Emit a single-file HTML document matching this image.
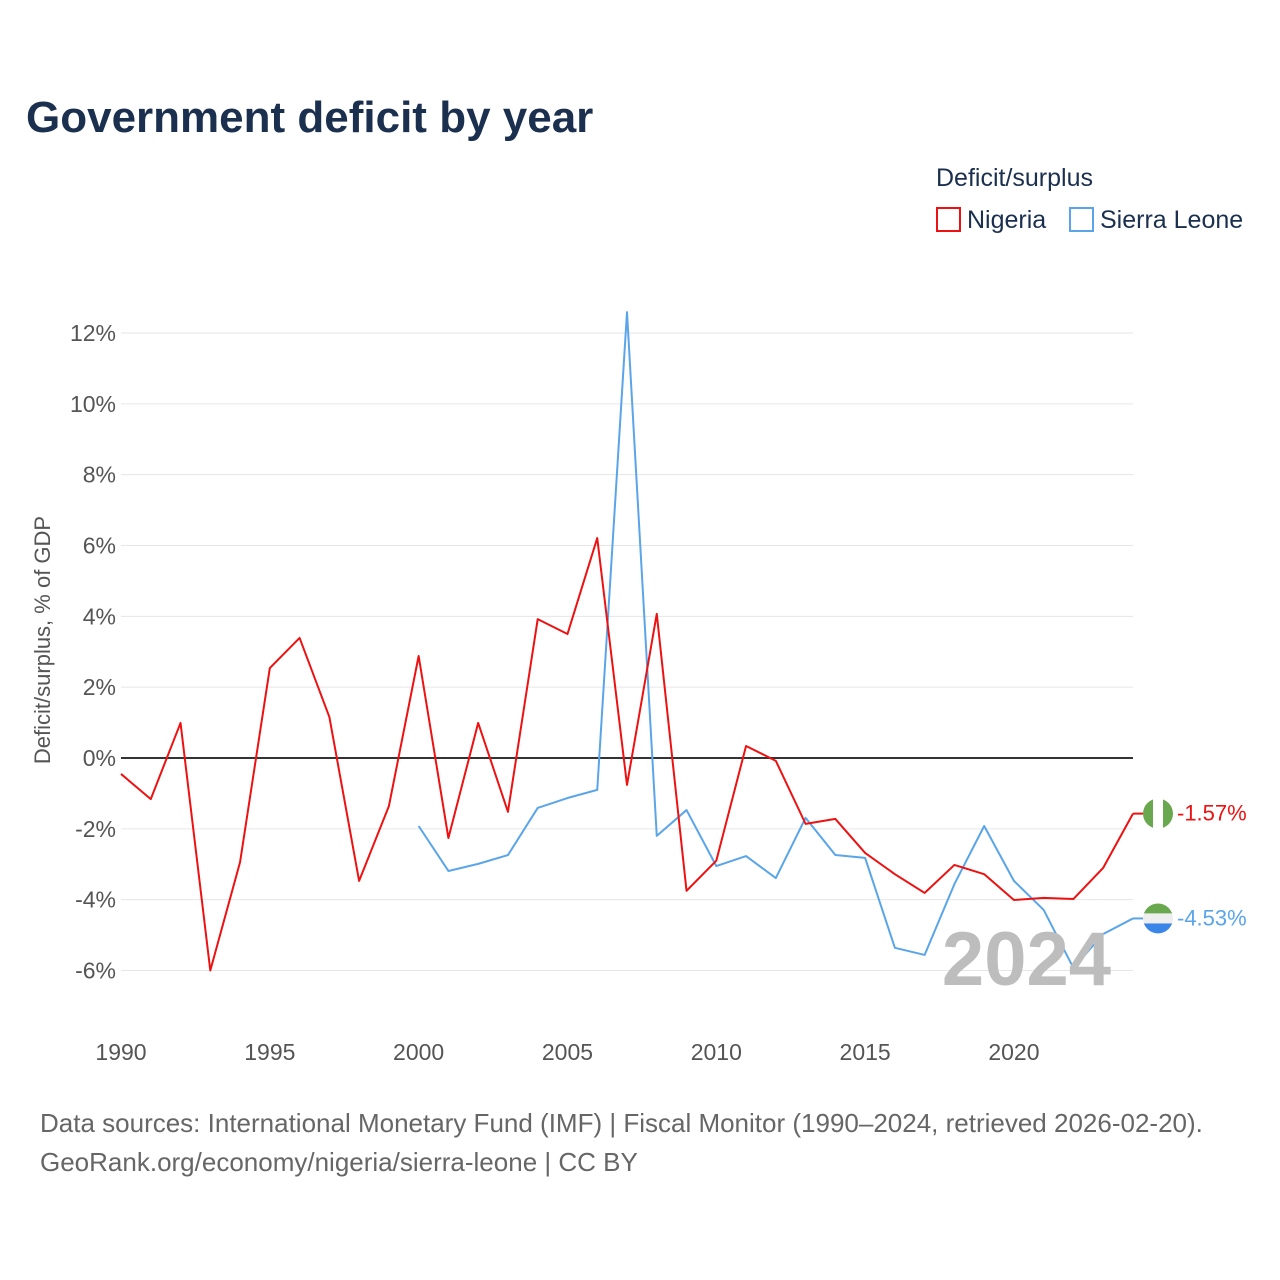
<!DOCTYPE html>
<html><head><meta charset="utf-8">
<style>
body{margin:0;background:#fff;font-family:"Liberation Sans",sans-serif;}
svg{display:block}
</style></head>
<body>
<svg id="chart" width="1280" height="1280">
<text x="26" y="132" font-size="44" font-weight="bold" fill="#1b2f4e">Government deficit by year</text>
<text x="936" y="186" font-size="25" fill="#1b2f4e">Deficit/surplus</text>
<g>
<rect x="937" y="208" width="23" height="23" fill="none" stroke="#ee1111" stroke-width="2"/>
<text x="967" y="228" font-size="25" fill="#1b2f4e">Nigeria</text></g>
<g>
<rect x="1070" y="208" width="23" height="23" fill="none" stroke="#5aa5ea" stroke-width="2"/>
<text x="1100" y="228" font-size="25" fill="#1b2f4e">Sierra Leone</text></g>
<text transform="translate(50,640) rotate(-90)" text-anchor="middle" font-size="22" fill="#555">Deficit/surplus, % of GDP</text>
<g id="grid"></g><g id="series"></g>
<text x="1111" y="985" text-anchor="end" font-size="76" font-weight="bold" fill="#bdbdbd">2024</text>
<text x="40" y="1132" font-size="26" fill="#666">Data sources: International Monetary Fund (IMF) | Fiscal Monitor (1990–2024, retrieved 2026-02-20).</text>
<text x="40" y="1171" font-size="26" fill="#666">GeoRank.org/economy/nigeria/sierra-leone | CC BY</text>
</svg>
<script>
const years=[];for(let y=1990;y<=2024;y++)years.push(y);
const nigeria=[-0.45,-1.16,0.99,-6.0,-2.94,2.54,3.39,1.16,-3.47,-1.36,2.88,-2.26,0.99,-1.52,3.92,3.5,6.21,-0.76,4.07,-3.75,-2.9,0.34,-0.08,-1.86,-1.72,-2.68,-3.28,-3.81,-3.02,-3.28,-4.01,-3.95,-3.98,-3.1,-1.57];
const sierraYears=[];for(let y=2000;y<=2024;y++)sierraYears.push(y);
const sierra=[-1.92,-3.19,-2.99,-2.74,-1.41,-1.13,-0.9,12.59,-2.2,-1.47,-3.05,-2.77,-3.39,-1.69,-2.74,-2.82,-5.36,-5.56,-3.56,-1.92,-3.47,-4.29,-5.93,-4.97,-4.53];
const yTicks=[-6,-4,-2,0,2,4,6,8,10,12];
const xTicks=[1990,1995,2000,2005,2010,2015,2020];
const X=v=>121+(v-1990)*(1133-121)/34;
const Y=v=>758-v*(758-333)/12;
const NS="http://www.w3.org/2000/svg";
const grid=document.getElementById('grid'),ser=document.getElementById('series');
function mk(tag,attrs,parent){const e=document.createElementNS(NS,tag);for(const k in attrs)e.setAttribute(k,attrs[k]);parent.appendChild(e);return e;}
yTicks.forEach(t=>{
 const l=mk('line',{x1:121,x2:1133,y1:Y(t),y2:Y(t),stroke:t===0?'#333':'#e6e6e6','stroke-width':t===0?2:1},grid);
 
 
 const tx=mk('text',{x:116,y:Y(t)+8,'text-anchor':'end','font-size':23,fill:'#555'},grid);
 tx.textContent=t+'%';
 
 
});
xTicks.forEach(t=>{
 const tx=mk('text',{x:X(t),y:1060,'text-anchor':'middle','font-size':23,fill:'#555'},grid);
 tx.textContent=t;
 
 
});
function line(xs,vs,color,name){
 const p=mk('polyline',{points:xs.map((x,i)=>X(x)+','+Y(vs[i])).join(' '),fill:'none',stroke:color,'stroke-width':2,'stroke-linejoin':'round'},ser);
 
 
}
line(sierraYears,sierra,'#5aa5ea','sierra-leone-line');
line(years,nigeria,'#ee1111','nigeria-line');
function endLabel(v,color,name,flag){
 const yy=Y(v);
 mk('line',{x1:1133,x2:1145,y1:yy,y2:yy,stroke:color,'stroke-width':2},ser);
 const g=mk('g',{},ser);
 
 
 const cx=1158,r=15;
 const cp=mk('clipPath',{id:'c'+name},g);
 mk('circle',{cx:cx,cy:yy,r:r},cp);
 const cg=mk('g',{'clip-path':'url(#c'+name+')'},g);
 if(flag==='ng'){mk('rect',{x:cx-r,y:yy-r,width:2*r,height:2*r,fill:'#fff'},cg);mk('rect',{x:cx-r,y:yy-r,width:10,height:2*r,fill:'#6aa84f'},cg);mk('rect',{x:cx+r-10,y:yy-r,width:10,height:2*r,fill:'#6aa84f'},cg);}
 else{mk('rect',{x:cx-r,y:yy-r,width:2*r,height:10,fill:'#6aa84f'},cg);mk('rect',{x:cx-r,y:yy-5,width:2*r,height:10,fill:'#eee'},cg);mk('rect',{x:cx-r,y:yy+5,width:2*r,height:10,fill:'#3a86e8'},cg);}
 const t=mk('text',{x:1177,y:yy+7,'font-size':22,fill:color},ser);
 t.textContent=v.toFixed(2)+'%';
 
 
}
endLabel(nigeria[nigeria.length-1],'#ee1111','nigeria','ng');
endLabel(sierra[sierra.length-1],'#5aa5ea','sierra-leone','sl');
</script>
</body></html>
